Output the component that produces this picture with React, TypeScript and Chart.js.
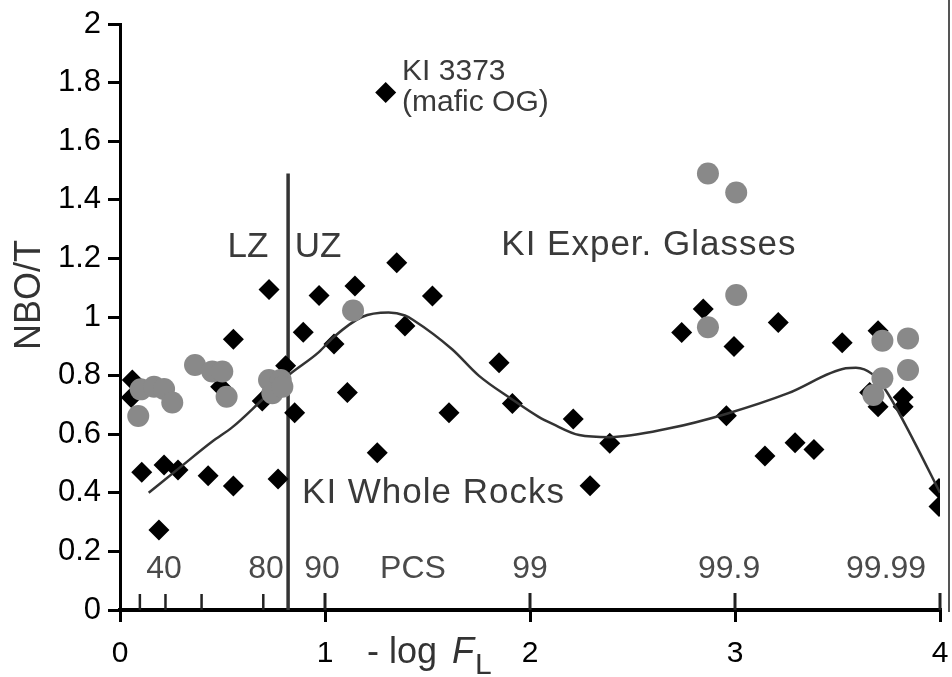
import React, { useEffect, useRef } from 'react';
import { Chart, registerables } from 'chart.js';

Chart.register(...registerables);

// ---- Data ----
const wholeRockX = [0.06, 0.055, 0.106, 0.19, 0.215, 0.283, 0.43, 0.553, 0.553, 0.491, 0.727, 0.694, 0.771, 0.808, 0.852, 0.894, 0.971, 1.044, 1.146, 1.35, 1.524, 1.39, 1.109, 1.255, 1.605, 1.849, 1.914, 1.296, 2.211, 2.389, 2.293, 2.958, 2.74, 2.845, 2.995, 3.211, 3.146, 3.293, 3.385, 3.523, 3.698, 3.657, 3.698, 3.82, 3.82, 3.995, 3.995];
const wholeRockY = [0.785, 0.725, 0.47, 0.273, 0.495, 0.478, 0.458, 0.423, 0.924, 0.762, 1.094, 0.713, 0.447, 0.834, 0.673, 0.948, 1.073, 0.908, 1.106, 1.185, 1.072, 0.969, 0.742, 0.537, 0.673, 0.844, 0.705, 1.766, 0.652, 0.569, 0.424, 0.663, 0.947, 1.027, 0.899, 0.981, 0.526, 0.571, 0.548, 0.912, 0.953, 0.742, 0.694, 0.726, 0.694, 0.415, 0.353];

const glassX = [0.089, 0.101, 0.166, 0.215, 0.255, 0.366, 0.45, 0.499, 0.52, 0.727, 0.784, 0.743, 0.792, 1.137, 2.868, 3.006, 3.006, 2.868, 3.719, 3.844, 3.844, 3.719, 3.675];
const glassY = [0.662, 0.753, 0.762, 0.754, 0.708, 0.836, 0.814, 0.814, 0.728, 0.785, 0.785, 0.74, 0.762, 1.022, 1.49, 1.425, 1.075, 0.965, 0.919, 0.927, 0.819, 0.791, 0.734];

const trendX = [0.14, 0.29, 0.45, 0.55, 0.69, 0.82, 0.97, 1.04, 1.18, 1.31, 1.39, 1.43, 1.62, 1.75, 1.91, 2.04, 2.11, 2.24, 2.39, 2.68, 2.96, 3.26, 3.54, 3.59, 3.67, 3.74, 3.87, 4.0];
const trendY = [0.40, 0.485, 0.575, 0.625, 0.715, 0.80, 0.88, 0.93, 1.0, 1.015, 1.005, 0.99, 0.89, 0.80, 0.72, 0.66, 0.635, 0.597, 0.59, 0.62, 0.67, 0.74, 0.825, 0.827, 0.805, 0.745, 0.58, 0.40];

const yTickLabels = ['0', '0.2', '0.4', '0.6', '0.8', '1', '1.2', '1.4', '1.6', '1.8', '2'];
const xTickLabels = ['0', '1', '2', '3', '4'];

const meltPercentLabels = ['40', '80', '90', 'PCS', '99', '99.9', '99.99'];
const meltPercentX = [0.215, 0.712, 0.985, 1.429, 2.0, 2.971, 3.737];
const meltMinorPercents = [20, 40, 60, 80];
const majorTickValues = [1, 2, 3, 4];

const zoneBoundaryX = 0.82;
const zoneBoundaryTop = 1.49;

const FONT = '"Liberation Sans", Arial, Helvetica, sans-serif';

const overlayPlugin = {
  id: 'overlay',
  beforeDatasetsDraw(chart: any) {
    const ctx = chart.ctx;
    const xs = chart.scales.x;
    const ys = chart.scales.y;
    const y0 = ys.getPixelForValue(0);
    ctx.save();
    // minor melt-percent ticks (upward)
    ctx.strokeStyle = '#222';
    ctx.lineWidth = 2.5;
    meltMinorPercents.forEach((p) => {
      const v = -Math.log10(1 - p / 100);
      const px = xs.getPixelForValue(v);
      ctx.beginPath();
      ctx.moveTo(px, y0);
      ctx.lineTo(px, y0 - 16);
      ctx.stroke();
    });
    // upward part of major ticks
    ctx.lineWidth = 3;
    majorTickValues.forEach((v) => {
      const px = xs.getPixelForValue(v);
      ctx.beginPath();
      ctx.moveTo(px, y0);
      ctx.lineTo(px, y0 - 17);
      ctx.stroke();
    });
    // LZ / UZ boundary
    ctx.strokeStyle = '#333';
    ctx.lineWidth = 3.5;
    const bx = xs.getPixelForValue(zoneBoundaryX);
    ctx.beginPath();
    ctx.moveTo(bx, y0);
    ctx.lineTo(bx, ys.getPixelForValue(zoneBoundaryTop));
    ctx.stroke();
    // right frame edge
    ctx.strokeStyle = '#555';
    ctx.lineWidth = 2;
    ctx.beginPath();
    ctx.moveTo(949, 0);
    ctx.lineTo(949, y0 + 2);
    ctx.stroke();
    ctx.restore();
  },
  afterDraw(chart: any) {
    const ctx = chart.ctx;
    const xs = chart.scales.x;
    const ys = chart.scales.y;
    const y0 = ys.getPixelForValue(0);
    ctx.save();
    // melt percent labels
    ctx.fillStyle = '#4a4a4a';
    ctx.font = `32px ${FONT}`;
    ctx.textAlign = 'center';
    ctx.textBaseline = 'alphabetic';
    meltPercentLabels.forEach((t, i) => {
      ctx.fillText(t, xs.getPixelForValue(meltPercentX[i]), y0 - 32);
    });
    // annotations
    ctx.fillStyle = '#3a3a3a';
    ctx.textBaseline = 'middle';
    ctx.font = `35px ${FONT}`;
    ctx.textAlign = 'center';
    ctx.fillText('LZ', xs.getPixelForValue(0.624), ys.getPixelForValue(1.239));
    ctx.fillText('UZ', xs.getPixelForValue(0.966), ys.getPixelForValue(1.239));
    ctx.textAlign = 'left';
    try { (ctx as any).letterSpacing = '1px'; } catch (e) { /* ignore */ }
    ctx.fillText('KI Exper. Glasses', xs.getPixelForValue(1.86), ys.getPixelForValue(1.246));
    ctx.fillText('KI Whole Rocks', xs.getPixelForValue(0.888), ys.getPixelForValue(0.399));
    try { (ctx as any).letterSpacing = '0px'; } catch (e) { /* ignore */ }
    ctx.font = `30px ${FONT}`;
    ctx.fillText('KI 3373', xs.getPixelForValue(1.376), ys.getPixelForValue(1.836));
    ctx.fillText('(mafic OG)', xs.getPixelForValue(1.376), ys.getPixelForValue(1.73));
    // y title
    ctx.fillStyle = '#333';
    ctx.font = `36px ${FONT}`;
    ctx.save();
    ctx.translate(30, 295);
    ctx.rotate(-Math.PI / 2);
    ctx.textAlign = 'center';
    ctx.textBaseline = 'middle';
    ctx.fillText('NBO/T', 0, 0);
    ctx.restore();
    // x title: - log F_L
    ctx.textAlign = 'left';
    ctx.textBaseline = 'alphabetic';
    ctx.font = `36px ${FONT}`;
    ctx.fillText('- log', 367, 663);
    ctx.font = `italic 36px ${FONT}`;
    ctx.fillText('F', 452, 663);
    ctx.font = `30px ${FONT}`;
    ctx.fillText('L', 475, 674);
    ctx.restore();
  },
};

export default function App() {
  const canvasRef = useRef<HTMLCanvasElement | null>(null);

  useEffect(() => {
    const canvas = canvasRef.current;
    if (!canvas) return;
    const wholeRocks = wholeRockX.map((x, i) => ({ x, y: wholeRockY[i] }));
    const glasses = glassX.map((x, i) => ({ x, y: glassY[i] }));
    const trend = trendX.map((x, i) => ({ x, y: trendY[i] }));

    const chart = new Chart(canvas, {
      type: 'scatter',
      data: {
        datasets: [
          {
            label: 'KI Exper. Glasses',
            data: glasses,
            pointStyle: 'circle',
            pointRadius: 11,
            backgroundColor: '#898989',
            borderColor: '#898989',
            borderWidth: 0,
          },
          {
            type: 'line',
            label: 'trend',
            data: trend,
            borderColor: '#333',
            borderWidth: 2.5,
            pointRadius: 0,
            fill: false,
            cubicInterpolationMode: 'monotone',
          } as any,
          {
            label: 'KI Whole Rocks',
            data: wholeRocks,
            pointStyle: 'rectRot',
            pointRadius: 10.5,
            backgroundColor: '#000',
            borderColor: '#000',
            borderWidth: 0,
          },
        ],
      },
      options: {
        responsive: false,
        animation: false,
        layout: { padding: { top: 24, right: 12, left: 0, bottom: 0 } },
        plugins: {
          legend: { display: false },
          tooltip: { enabled: false },
        },
        scales: {
          x: {
            type: 'linear',
            min: 0,
            max: 4,
            afterFit: (s: any) => {
              s.height = 67;
              s.paddingLeft = 0;
              s.paddingRight = 0;
            },
            border: { display: true, color: '#000', width: 4 },
            grid: { drawOnChartArea: false, drawTicks: true, tickLength: 12, color: '#000', lineWidth: 3 },
            ticks: {
              stepSize: 1,
              padding: 14,
              color: '#000',
              font: { family: FONT, size: 30 },
              callback: (_v: any, i: number) => xTickLabels[i],
            },
          },
          y: {
            type: 'linear',
            min: 0,
            max: 2,
            afterFit: (s: any) => {
              s.width = 120;
              s.paddingTop = 0;
              s.paddingBottom = 0;
            },
            border: { display: true, color: '#000', width: 3 },
            grid: { drawOnChartArea: false, drawTicks: true, tickLength: 12, color: '#000', lineWidth: 3 },
            ticks: {
              stepSize: 0.2,
              padding: 7,
              color: '#000',
              font: { family: FONT, size: 31 },
              callback: (_v: any, i: number) => yTickLabels[i],
            },
          },
        },
      } as any,
      plugins: [overlayPlugin],
    });
    return () => chart.destroy();
  }, []);

  return (
    <div style={{ position: 'absolute', left: 0, top: 0, width: 952, height: 677, background: '#fff' }}>
      <canvas ref={canvasRef} width={952} height={677} style={{ display: 'block', width: 952, height: 677 }} />
    </div>
  );
}
